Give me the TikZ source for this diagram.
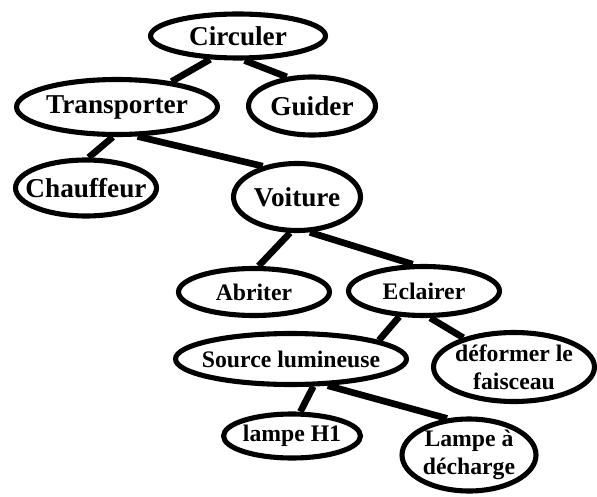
\documentclass[tikz,border=0pt]{standalone}
\usepackage{fontspec}
\setmainfont{Liberation Serif}
\usetikzlibrary{shapes.geometric, positioning}

\begin{document}
\begin{tikzpicture}[x=0.02cm, y=-0.02cm,
    fn/.style={draw, ellipse, line width=2.9pt, inner xsep=-30pt, inner ysep=-4pt,
        align=center, font=\fontsize{15.5}{16}\selectfont\bfseries},
    fs/.style={fn, font=\fontsize{13.5}{16}\selectfont\bfseries},
    link/.style={line width=3.8pt}]
\useasboundingbox (0,0) rectangle (597,496);
% Functions tree
\node[fn, minimum width=3.5cm, minimum height=0.88cm] (circ) at (238,36) {Circuler};
\node[fn, minimum width=4.02cm, minimum height=1.1cm] (trans) at (117,107) {Transporter};
\node[fn, minimum width=2.54cm, minimum height=1.16cm] (guid) at (312,106) {Guider};
\node[fn, minimum width=2.82cm, minimum height=1.12cm] (chauf) at (86,188) {Chauffeur};
\node[fn, minimum width=2.54cm, minimum height=1.34cm] (voit) at (297,197) {Voiture};
\node[fs, minimum width=3.02cm, minimum height=0.94cm] (abri) at (254,292) {Abriter};
\node[fs, minimum width=3.02cm, minimum height=0.98cm] (ecl) at (424,291) {Eclairer};
\node[fs, minimum width=4.62cm, minimum height=1.02cm] (src) at (291,359) {Source lumineuse};
\node[fs, minimum width=3.22cm, minimum height=1.38cm] (defo) at (514,367) {déformer le\\faisceau};
\node[fs, minimum width=2.74cm, minimum height=0.88cm] (hun) at (292,436) {lampe H1};
\node[fs, minimum width=2.68cm, minimum height=1.44cm] (dech) at (469,455) {Lampe à\\décharge};
\foreach \a/\b in {circ.-140/trans.25, circ.-75/guid.131, trans.-98/chauf.85,
    trans.-55/voit.138, voit.-101/abri.80, voit.-70/ecl.113, ecl.-134/src.12,
    ecl.-77/defo.150, src.-51/hun.71, src.-36/dech.121} {
    \draw[link] (\a) -- (\b);
}
\end{tikzpicture}
\end{document}
